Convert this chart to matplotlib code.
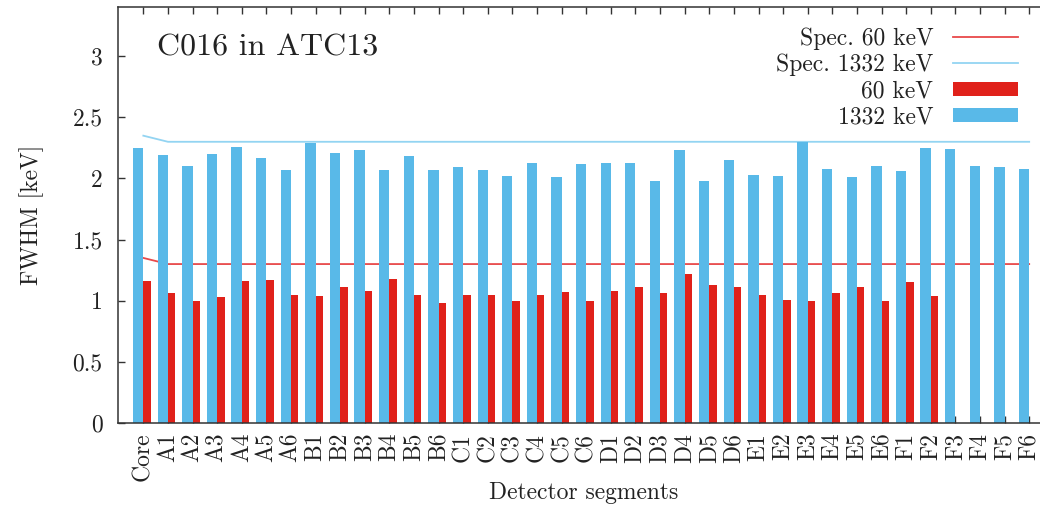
import matplotlib
matplotlib.use("Agg")
import matplotlib.pyplot as plt
import numpy as np

# segment names
segmentos = ["Core",
             "A1", "A2", "A3", "A4", "A5", "A6",
             "B1", "B2", "B3", "B4", "B5", "B6",
             "C1", "C2", "C3", "C4", "C5", "C6",
             "D1", "D2", "D3", "D4", "D5", "D6",
             "E1", "E2", "E3", "E4", "E5", "E6",
             "F1", "F2", "F3", "F4", "F5", "F6"]

# FWHM [keV] at 1332 keV
fwhm_1332 = [2.25,
             2.19, 2.10, 2.20, 2.26, 2.17, 2.07,
             2.29, 2.21, 2.23, 2.07, 2.18, 2.07,
             2.09, 2.07, 2.02, 2.13, 2.01, 2.12,
             2.13, 2.13, 1.98, 2.23, 1.98, 2.15,
             2.03, 2.02, 2.30, 2.08, 2.01, 2.10,
             2.06, 2.25, 2.24, 2.10, 2.09, 2.08]

# FWHM [keV] at 60 keV (no value for F3-F6)
fwhm_60 = [1.16,
           1.06, 1.00, 1.03, 1.16, 1.17, 1.05,
           1.04, 1.11, 1.08, 1.18, 1.05, 0.98,
           1.05, 1.05, 1.00, 1.05, 1.07, 1.00,
           1.08, 1.11, 1.06, 1.22, 1.13, 1.11,
           1.05, 1.01, 1.00, 1.06, 1.11, 1.00,
           1.15, 1.04, np.nan, np.nan, np.nan, np.nan]

# specification values
spec_60 = [1.35,
           1.30, 1.30, 1.30, 1.30, 1.30, 1.30,
           1.30, 1.30, 1.30, 1.30, 1.30, 1.30,
           1.30, 1.30, 1.30, 1.30, 1.30, 1.30,
           1.30, 1.30, 1.30, 1.30, 1.30, 1.30,
           1.30, 1.30, 1.30, 1.30, 1.30, 1.30,
           1.30, 1.30, 1.30, 1.30, 1.30, 1.30]
spec_1332 = [2.35,
             2.30, 2.30, 2.30, 2.30, 2.30, 2.30,
             2.30, 2.30, 2.30, 2.30, 2.30, 2.30,
             2.30, 2.30, 2.30, 2.30, 2.30, 2.30,
             2.30, 2.30, 2.30, 2.30, 2.30, 2.30,
             2.30, 2.30, 2.30, 2.30, 2.30, 2.30,
             2.30, 2.30, 2.30, 2.30, 2.30, 2.30]

plt.rcParams['font.family'] = ['cmr10', 'DejaVu Serif']
plt.rcParams['axes.formatter.use_mathtext'] = True
plt.rcParams['axes.unicode_minus'] = False

rojo = '#e0211a'
azul = '#59b9e8'
rojo_linea = '#e8494a'
azul_linea = '#93d4f2'
negro = '#222222'

fig = plt.figure(figsize=(10.4, 5.08), dpi=100)
ax = fig.add_axes([118 / 1040, 85 / 508, 923 / 1040, 415.7 / 508])

x = np.arange(len(segmentos))
y60 = np.array(fwhm_60)
ok = ~np.isnan(y60)

ax.plot(x, spec_60, color=rojo_linea, lw=1.3, zorder=1, label='Spec. 60 keV')
ax.plot(x, spec_1332, color=azul_linea, lw=1.3, zorder=1, label='Spec. 1332 keV')
ax.bar(x - 0.21, fwhm_1332, width=0.42, color=azul, lw=0, zorder=2, label='1332 keV')
ax.bar(x[ok] + 0.15, y60[ok], width=0.30, color=rojo, lw=0, zorder=2, label='60 keV')

ax.set_xlim(-1.03, 36.48)
ax.set_ylim(0, 3.4)
ax.set_yticks([0, 0.5, 1, 1.5, 2, 2.5, 3])
ax.set_yticklabels(['0', '0.5', '1', '1.5', '2', '2.5', '3'])
ax.set_xticks(x)
ax.set_xticklabels(segmentos, rotation=90, ha='center', va='top')

ax.tick_params(axis='both', direction='in', length=5, width=1, colors='#333333',
               labelcolor=negro, labelsize=17)
ax.tick_params(axis='x', top=True, pad=7)
ax.tick_params(axis='y', pad=11)
for s in ['left', 'top', 'bottom']:
    ax.spines[s].set_color('#333333')
    ax.spines[s].set_linewidth(1.1)
ax.spines['right'].set_visible(False)

ax.set_xlabel('Detector segments', fontsize=17, color=negro, va='baseline')
ax.xaxis.set_label_coords(0.505, -0.183)
ax.set_ylabel('FWHM [keV]', fontsize=17, color=negro, va='center')
ax.yaxis.set_label_coords(-0.094, 0.5)

ax.text(0.042, 0.885, 'C016 in ATC13', transform=ax.transAxes, fontsize=23,
        color=negro, va='baseline', ha='left')

h, l = ax.get_legend_handles_labels()
orden = [0, 1, 3, 2]
leg = ax.legend([h[i] for i in orden], [l[i] for i in orden], loc='upper right',
                bbox_to_anchor=(1018.3 / 1040, (508 - 27) / 508),
                bbox_transform=fig.transFigure, frameon=False, markerfirst=False,
                fontsize=17, handlelength=2.78, handletextpad=0.82,
                handleheight=0.54, labelspacing=0.17, borderpad=0, borderaxespad=0)
for t in leg.get_texts():
    t.set_color(negro)

fig.savefig('out.png', dpi=100)
